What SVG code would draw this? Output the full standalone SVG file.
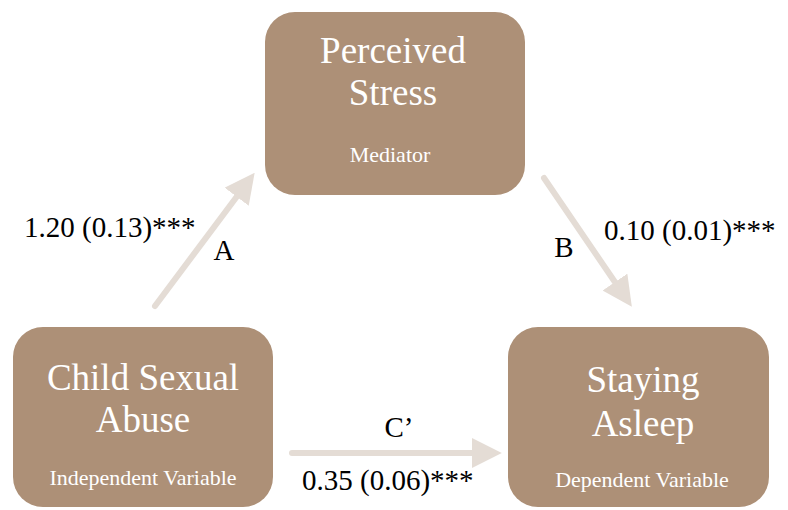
<svg xmlns="http://www.w3.org/2000/svg" width="788" height="510" viewBox="0 0 788 510">
<style>
.box{fill:#AD9077;}
.title{font-family:"Liberation Serif",serif;font-size:37px;fill:#ffffff;text-anchor:middle;}
.sub{font-family:"Liberation Serif",serif;font-size:22px;fill:#ffffff;text-anchor:middle;}
.lbl{font-family:"Liberation Serif",serif;font-size:29px;fill:#000000;}
.conn{stroke:#E4DCD5;stroke-width:6;stroke-linecap:round;fill:none;}
</style>
<defs>
<marker id="ah" markerWidth="5" markerHeight="5" refX="1.2" refY="2.5" orient="auto" markerUnits="strokeWidth" viewBox="0 0 5 5">
<path d="M0,0 L5,2.5 L0,5 Z" fill="#E4DCD5"/>
</marker>
</defs>
<rect width="788" height="510" fill="#ffffff"/>
<g id="connectors">
<line class="conn" x1="155" y1="306" x2="241" y2="191" marker-end="url(#ah)"/>
<line class="conn" x1="544" y1="178" x2="619" y2="288" marker-end="url(#ah)"/>
<line class="conn" x1="292" y1="453" x2="479" y2="453" marker-end="url(#ah)"/>
<text class="lbl" x="24" y="237">1.20 (0.13)***</text>
<text class="lbl" x="224" y="260" text-anchor="middle">A</text>
<text class="lbl" x="564" y="257" text-anchor="middle">B</text>
<text class="lbl" x="604" y="240">0.10 (0.01)***</text>
<text class="lbl" x="399" y="437" text-anchor="middle">C’</text>
<text class="lbl" x="302" y="490">0.35 (0.06)***</text>
</g>
<g id="node-mediator">
<rect class="box" x="265" y="12" width="260" height="183" rx="30"/>
<text class="title" x="393" y="63">Perceived</text>
<text class="title" x="393" y="105">Stress</text>
<text class="sub" x="390" y="162">Mediator</text>
</g>
<g id="node-iv">
<rect class="box" x="13" y="327" width="260" height="180" rx="30"/>
<text class="title" x="143" y="390">Child Sexual</text>
<text class="title" x="143" y="432">Abuse</text>
<text class="sub" x="143" y="485">Independent Variable</text>
</g>
<g id="node-dv">
<rect class="box" x="508" y="327" width="261" height="180" rx="30"/>
<text class="title" x="643" y="392">Staying</text>
<text class="title" x="643" y="436">Asleep</text>
<text class="sub" x="642" y="487">Dependent Variable</text>
</g>
</svg>
